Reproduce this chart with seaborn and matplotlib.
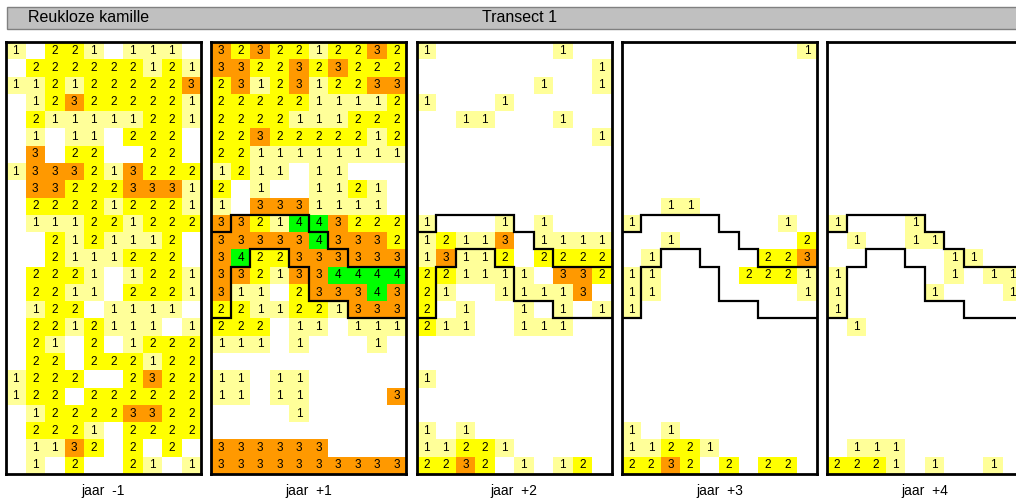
import numpy as np
import matplotlib
matplotlib.use("Agg")
import matplotlib.pyplot as plt
from matplotlib.colors import ListedColormap
from matplotlib.patches import Rectangle
import seaborn as sns

species = "Reukloze kamille"
transect = "Transect 1"
years = ["jaar  -1", "jaar  +1", "jaar  +2", "jaar  +3", "jaar  +4"]

# cover class per cell (25 rows x 10 columns), 0 = nothing found
jaar_min1 = [
    "1022101110", "0222222121", "1121222223", "0123222221", "0211111221",
    "0101102220", "0302200220", "1333213222", "0332223331", "0222212221",
    "0111221222", "0021211120", "0021112220", "0222101221", "0221102221",
    "0122011110", "0221211101", "0210201222", "0220222122", "1222002322",
    "1220222222", "0122223322", "0222102222", "0113202020", "0102002101",
]
jaar_plus1 = [
    "3232212232", "3322323222", "2312312233", "2222211112", "2222111222",
    "2232222212", "2211111111", "1211011000", "2010011210", "1033311110",
    "3321443222", "3333343332", "3422333333", "3321334444", "3110233343",
    "2211221333", "2220110111", "1110100010", "0000000000", "1101100000",
    "1101100003", "0000100000", "0000000000", "3333330000", "3333333333",
]
jaar_plus2 = [
    "1000000100", "0000000001", "0000001001", "1000100000", "0011000100",
    "0000000001", "0000000000", "0000000000", "0000000000", "0000000000",
    "1000101000", "1211301111", "1311202222", "2211110332", "2100111130",
    "2010010101", "2110011100", "0000000000", "0000000000", "1000000000",
    "0000000000", "0000000000", "1010000000", "1122100000", "2232010120",
]
jaar_plus3 = [
    "0000000001", "0000000000", "0000000000", "0000000000", "0000000000",
    "0000000000", "0000000000", "0000000000", "0000000000", "0011000000",
    "1000000010", "0010000002", "0100000223", "1100002221", "1100000001",
    "1000000000", "0000000000", "0000000000", "0000000000", "0000000000",
    "0000000000", "0000000000", "1010000000", "1122100000", "2232020220",
]
jaar_plus4 = [
    "0000000000", "0000000000", "0000000000", "0000000000", "0000000000",
    "0000000000", "0000000000", "0000000000", "0000000000", "0000000000",
    "1000100000", "0100110000", "0000001100", "1000001011", "1000010001",
    "1000000000", "0100000000", "0000000000", "0000000000", "0000000000",
    "0000000000", "0000000000", "0000000000", "0111000000", "2221010010",
]

# outlined strip: top and bottom row edge for every column
strip_top = [11, 10, 10, 10, 10, 11, 12, 13, 13, 13]
strip_bottom = [16, 13, 12, 12, 13, 15, 15, 16, 16, 16]
strip_shown = [False, True, True, True, True]

class_colors = ["#FFFFFF", "#FFFF99", "#FFFF00", "#FF9900", "#00FF00"]


def toGrid(rows):
    return np.array([[int(c) for c in r] for r in rows])


def stepLine(edges):
    xs, ys = [], []
    for col, edge in enumerate(edges):
        xs += [col, col + 1]
        ys += [edge, edge]
    return xs, ys


plt.rcParams['font.family'] = ['Liberation Sans', 'DejaVu Sans']

W, H = 1016, 504
fig = plt.figure(figsize=(W / 100, H / 100), dpi=100)

# grey title bar
fig.patches.append(Rectangle((7 / W, (H - 29) / H), 1.2, 22 / H, transform=fig.transFigure,
                             facecolor="#C0C0C0", edgecolor="#808080", lw=1))
fig.text(28 / W, (H - 18) / H, species, fontsize=11.5, ha="left", va="center")
fig.text(520 / W, (H - 18) / H, transect, fontsize=11.5, ha="center", va="center")

cmap = ListedColormap(class_colors)
panels = [jaar_min1, jaar_plus1, jaar_plus2, jaar_plus3, jaar_plus4]

for i, rows in enumerate(panels):
    grid = toGrid(rows)
    labels = np.where(grid > 0, grid.astype(str), "")

    left = 6 + 205.3 * i
    ax = fig.add_axes([left / W, 30 / H, 195 / W, 432 / H])
    sns.heatmap(grid, ax=ax, cmap=cmap, vmin=-0.5, vmax=4.5, cbar=False,
                annot=labels, fmt="", annot_kws={"size": 8.5, "color": "black"},
                xticklabels=False, yticklabels=False)

    if strip_shown[i]:
        for edges in (strip_top, strip_bottom):
            xs, ys = stepLine(edges)
            ax.plot(xs, ys, color="black", lw=1.6, solid_joinstyle="miter")

    for spine in ax.spines.values():
        spine.set_visible(True)
        spine.set_linewidth(2)
        spine.set_color("black")

    fig.text((left + 97.5) / W, (H - 491) / H, years[i], fontsize=10, ha="center", va="center")

fig.savefig("out.png", dpi=100)
